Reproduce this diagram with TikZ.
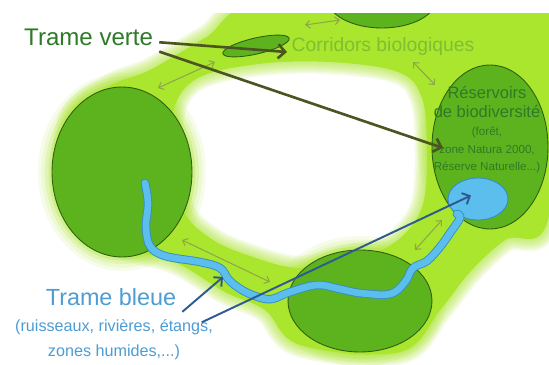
\documentclass[tikz,border=0pt]{standalone}
\usepackage{fontspec}
\setmainfont{Liberation Sans}
\usetikzlibrary{arrows.meta,positioning,shapes.geometric}

\definecolor{bandgreen}{RGB}{170,230,45}
\definecolor{resgreen}{RGB}{93,179,30}
\definecolor{resedge}{RGB}{47,94,18}
\definecolor{vertetext}{RGB}{46,122,40}
\definecolor{corrtext}{RGB}{128,190,50}
\definecolor{arrowolive}{RGB}{76,84,34}
\definecolor{bleutext}{RGB}{77,157,212}
\definecolor{arrowblue}{RGB}{46,90,145}
\definecolor{water}{RGB}{91,190,236}
\definecolor{wateredge}{RGB}{55,140,195}
\definecolor{linkolive}{RGB}{140,168,70}

\tikzset{
	reservoir/.style={ellipse, fill=resgreen, draw=resedge, line width=0.5pt, inner sep=0pt, outer sep=0pt,
		preaction={draw=bandgreen, line width=16pt, opacity=0.1},
		preaction={draw=bandgreen, line width=12pt, opacity=0.12},
		preaction={draw=bandgreen, line width=8pt, opacity=0.18},
		preaction={draw=bandgreen, line width=4pt, opacity=0.3}},
	pond/.style={ellipse, fill=water, draw=wateredge, line width=0.5pt, inner sep=0pt, outer sep=0pt},
	river/.style={draw=wateredge, line width=0.5pt, double=water, double distance=3.8pt, line cap=round},
	verteline/.style={draw=arrowolive, line width=1.5pt, -{Straight Barb[length=4pt,width=8pt]}},
	bleueline/.style={draw=arrowblue, line width=1.1pt, -{Straight Barb[length=3.5pt,width=7pt]}},
	link/.style={draw=linkolive, line width=0.6pt, {Straight Barb[length=2.5pt,width=4.5pt]}-{Straight Barb[length=2.5pt,width=4.5pt]}}
}

% outline of the green corridor and of the hole inside it
\def\outerpath{plot[smooth cycle, tension=0.6] coordinates {(275,0) (549,0) (549,215) (505,240) (470,272) (440,310) (400,352) (300,345) (265,310) (225,292) (175,262) (120,245) (70,200) (70,120) (110,86) (150,70) (205,38)}}
\def\holepath{plot[smooth cycle, tension=0.6] coordinates {(174,108) (198,78) (258,64) (330,62) (398,72) (422,98) (427,150) (424,200) (410,228) (384,249) (350,256) (300,268) (250,256) (210,238) (182,208) (174,150)}}

\begin{document}
\begin{tikzpicture}[x=0.02cm, y=-0.02cm]
	\useasboundingbox (0,0) rectangle (549,365);
	\fill[white] (0,0) rectangle (549,365);

	\begin{scope}
		\clip (0,14) rectangle (549,365);
		\fill[bandgreen, even odd rule] \outerpath \holepath;
		% soft edges
		\foreach \w in {14,12,...,2}
			\draw[bandgreen, line width=\w pt, opacity=0.12] \outerpath \holepath;

		\node [reservoir, minimum width=2.8cm, minimum height=3.4cm]	(left)		at (122,172) {};
		\node [reservoir, minimum width=2.2cm, minimum height=1.2cm]	(top)		at (382,-2) {};
		\node [reservoir, minimum width=2.32cm, minimum height=3.28cm]	(right)		at (490,147) {};
		\node [reservoir, minimum width=2.88cm, minimum height=2.04cm]	(bottom)	at (360,301) {};
		\node [ellipse, fill=resgreen, draw=resedge, line width=0.5pt, inner sep=0pt,
			minimum width=1.36cm, minimum height=0.32cm, rotate=13]	(lens)		at (256,46) {};
		\node [pond, minimum width=1.2cm, minimum height=0.84cm]	(pond)		at (478,199) {};

		\draw[river] plot[smooth, tension=0.6] coordinates {(145,183) (148,203) (146,227) (150,246) (165,256) (200,262) (220,268) (229,280) (242,290) (258,297) (272,299) (290,292) (317,285) (340,289) (360,293) (390,294) (405,282) (413,268) (427,261) (440,247) (450,233) (460,218) (pond.south west)};
	\end{scope}

	% double arrows between reservoirs
	\coordinate (l1a) at (305,25);	\coordinate (l1b) at (340,20);
	\coordinate (l2a) at (158,88);	\coordinate (l2b) at (215,62);
	\coordinate (l3a) at (413,62);	\coordinate (l3b) at (435,85);
	\coordinate (l4a) at (182,240);	\coordinate (l4b) at (270,282);
	\coordinate (l5a) at (415,250);	\coordinate (l5b) at (442,220);
	\foreach \i in {1,...,5}
		\draw[link] (l\i a) -- (l\i b);

	% texts
	\node [anchor=west, text=vertetext, font=\fontsize{13.7}{16}\selectfont]	(verte)	at (18,37) {Trame verte};
	\node [text=corrtext, font=\fontsize{11}{13}\selectfont]	(corr)	at (383,47) {Corridors biologiques};
	\node [text=vertetext, align=center, font=\fontsize{9.4}{10.8}\selectfont]	(resv-title)	at (487,102) {Réservoirs\\de biodiversité};
	\node [text=vertetext, align=center, font=\fontsize{6.6}{10.2}\selectfont]	(resv-ex)	at (487,150) {(forêt,\\zone Natura 2000,\\Réserve Naturelle...)};
	\node [text=bleutext, font=\fontsize{13.3}{16}\selectfont]	(bleue)	at (111,297) {Trame bleue};
	\node [text=bleutext, align=center, font=\fontsize{9.2}{14.2}\selectfont]	(bleue-ex)	at (114,340) {(ruisseaux, rivières, étangs,\\zones humides,...)};

	% arrows
	\coordinate (corr-tip) at (287,52);
	\coordinate (resv-tip) at (443,148);
	\coordinate (river-tip) at (223,277);
	\draw[verteline] ([yshift=-3pt]verte.east) -- (corr-tip);
	\draw[verteline] (verte.south east) -- (resv-tip);
	\draw[bleueline] (bleue.south east) -- (river-tip);
	\draw[bleueline] ([xshift=11pt,yshift=-6pt]bleue.south east) -- ([xshift=-4pt,yshift=2pt]pond.center);
\end{tikzpicture}
\end{document}
